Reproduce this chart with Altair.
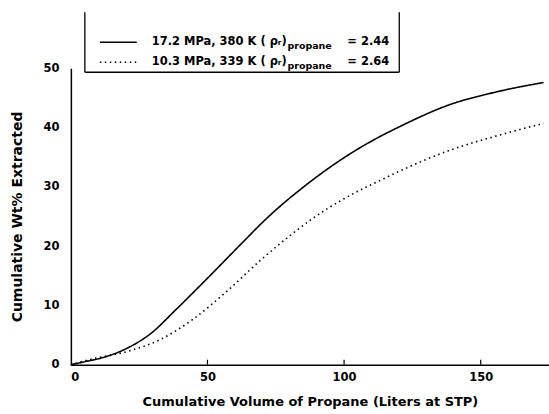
import altair as alt
import pandas as pd

# Series
x_high = [0, 5, 11.7, 21.5, 28.8, 38.7, 49.6, 62.8, 70.8, 88.3, 104.4, 112.8, 120.1, 138.3, 156.6, 173]
y_high = [0, 0.5, 1.2, 3.0, 5.1, 9.4, 14.4, 20.6, 24.3, 31.1, 36.2, 38.4, 40.1, 43.8, 46.1, 47.6]

x_low = [0, 8.0, 20.4, 32.5, 44.5, 56.9, 70.1, 80, 88.3, 100, 112.8, 120.1, 138.3, 156.6, 173]
y_low = [0, 1.0, 2.2, 4.2, 7.6, 12.3, 17.9, 21.7, 24.6, 28.0, 31.0, 32.6, 36.1, 38.7, 40.7]

series_names = ["17.2 MPa, 380 K", "10.3 MPa, 339 K"]
legend_main = ["17.2 MPa, 380 K  ( ρᵣ)", "10.3 MPa, 339 K  ( ρᵣ)"]
legend_sub = ["propane", "propane"]
legend_val = ["= 2.44", "= 2.64"]
x_ticks = [0, 50, 100, 150]
y_ticks = [0, 10, 20, 30, 40, 50]

FONT = "DejaVu Sans"
W, H = 479, 297

rows = []
for xv, yv in zip(x_high, y_high):
    rows.append({"series": series_names[0], "x": xv, "y": yv})
for xv, yv in zip(x_low, y_low):
    rows.append({"series": series_names[1], "x": xv, "y": yv})
df = pd.DataFrame(rows)

xscale = alt.Scale(domain=[0, 175], nice=False, zero=True)
yscale = alt.Scale(domain=[0, 50], nice=False)

lines = alt.Chart(df).mark_line(color="black", strokeWidth=1.6, interpolate="monotone").encode(
    x=alt.X("x:Q", scale=xscale, axis=alt.Axis(
        values=x_ticks, title="Cumulative Volume of Propane (Liters at STP)",
        tickSize=0, labelPadding=7, labelFontSize=11.5, labelFontWeight="bold",
        titleFontSize=13, titleFontWeight="bold", titlePadding=12, grid=False,
        domainColor="black", domainWidth=1.5, labelFont=FONT, titleFont=FONT,
        labelColor="black", titleColor="black")),
    y=alt.Y("y:Q", scale=yscale, axis=alt.Axis(
        values=y_ticks, title="Cumulative Wt% Extracted",
        tickSize=0, labelPadding=12, labelFontSize=11.5, labelFontWeight="bold",
        titleFontSize=14, titleFontWeight="bold", titlePadding=18, grid=False,
        domainColor="black", domainWidth=1.5, labelFont=FONT, titleFont=FONT,
        labelColor="black", titleColor="black")),
    strokeDash=alt.StrokeDash("series:N", scale=alt.Scale(domain=series_names, range=[[1, 0], [1.5, 3.5]]), legend=None),
    detail="series:N",
)

ticks_df = pd.DataFrame({"t": x_ticks[1:]})
tick_marks = alt.Chart(ticks_df).mark_rule(color="black", strokeWidth=1.2).encode(
    x=alt.X("t:Q", scale=xscale), y=alt.value(H), y2=alt.value(H - 5)
)

# Legend box (positions relative to plot origin)
leg_df = pd.DataFrame({
    "main": legend_main, "sub": legend_sub, "val": legend_val,
    "row": [0, 1],
})
box_left = alt.Chart(leg_df.head(1)).mark_rule(color="black", strokeWidth=1.3).encode(
    x=alt.value(14), y=alt.value(-56), y2=alt.value(4))
box_right = alt.Chart(leg_df.head(1)).mark_rule(color="black", strokeWidth=1.3).encode(
    x=alt.value(329), y=alt.value(-56), y2=alt.value(4))
box_bottom = alt.Chart(leg_df.head(1)).mark_rule(color="black", strokeWidth=1.3).encode(
    x=alt.value(14), x2=alt.value(329), y=alt.value(4))

sample1 = alt.Chart(leg_df.head(1)).mark_rule(color="black", strokeWidth=1.5).encode(
    x=alt.value(29), x2=alt.value(66), y=alt.value(-26))
sample2 = alt.Chart(leg_df.head(1)).mark_rule(color="black", strokeWidth=1.5, strokeDash=[1.5, 3.5]).encode(
    x=alt.value(29), x2=alt.value(66), y=alt.value(-6))

def legend_text(i, field, xpos, ypos, size):
    return alt.Chart(leg_df.iloc[[i]]).mark_text(
        align="left", baseline="middle", font=FONT, fontWeight="bold",
        fontSize=size, color="black").encode(
        x=alt.value(xpos), y=alt.value(ypos), text=f"{field}:N")

txts = [
    legend_text(0, "main", 81, -26, 11.5),
    legend_text(1, "main", 81, -6, 11.5),
    legend_text(0, "sub", 217, -22, 9.5),
    legend_text(1, "sub", 217, -2, 9.5),
    legend_text(0, "val", 277, -26, 11.5),
    legend_text(1, "val", 277, -6, 11.5),
]

chart = alt.layer(
    lines, tick_marks, box_left, box_right, box_bottom, sample1, sample2, *txts
).properties(
    width=W, height=H,
    autosize=alt.AutoSizeParams(type="none"),
    padding={"left": 71, "top": 68, "right": 0, "bottom": 49},
    background="white",
).configure_view(stroke=None)

chart.save("out.html", embed_options={"renderer": "svg", "actions": False})
